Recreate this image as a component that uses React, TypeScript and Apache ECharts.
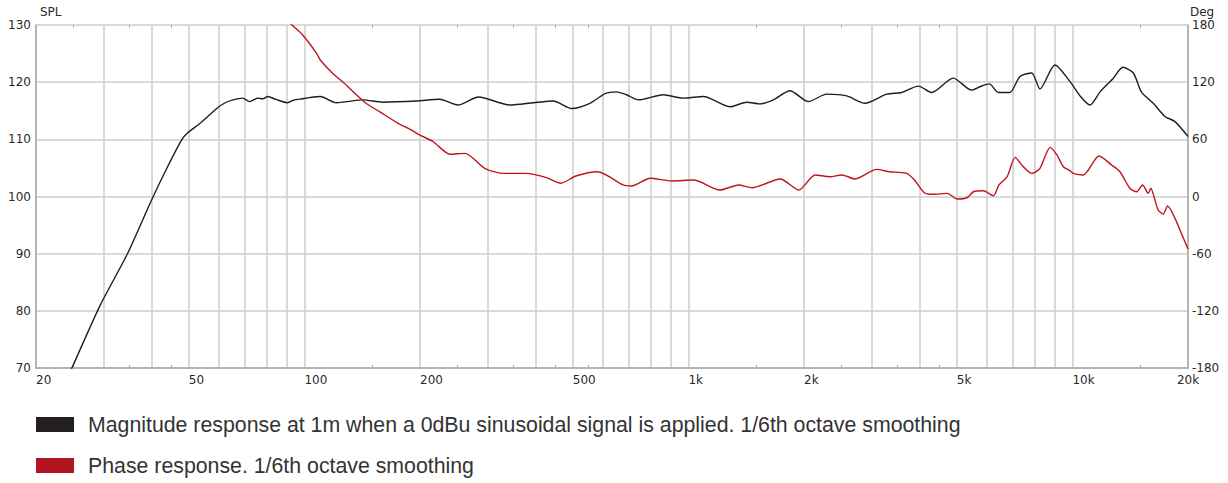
import React, { useEffect, useRef } from "react";
import * as echarts from "echarts";

// Magnitude response (Hz, dB SPL)
const magFreq = [
  24, 24.8, 29.4, 34.5, 40.0, 43.8, 47.9, 49.6, 53.5, 59.1, 62.2, 65.2, 69.0, 72.0, 75.7, 78, 80.3, 84.2, 90.3, 94,
  99, 103, 110, 121, 142, 160, 196, 225, 251, 284, 343, 395, 445, 497, 554, 607, 650, 690, 741, 860, 970, 1094,
  1284, 1419, 1536, 1663, 1839, 2052, 2292, 2584, 2883, 3284, 3594, 3970, 4300, 4895, 5467, 5742, 6079, 6413,
  6873, 7302, 7831, 8232, 9007, 9857, 10500, 11110, 11800, 12780, 13530, 14410, 15150, 16240, 17420, 18500, 20000,
];
const magSpl = [
  68, 70, 81.0, 89.8, 99.4, 104.9, 109.9, 111.1, 112.8, 115.4, 116.4, 116.9, 117.2, 116.6, 117.2, 117.1, 117.5,
  117.0, 116.4, 116.9, 117.1, 117.3, 117.5, 116.4, 116.9, 116.5, 116.7, 117.0, 116.0, 117.4, 116.0, 116.4, 116.7,
  115.4, 116.3, 118.0, 118.3, 117.8, 116.9, 117.8, 117.2, 117.5, 115.7, 116.5, 116.2, 116.9, 118.5, 116.6, 117.9,
  117.6, 116.3, 117.9, 118.2, 119.3, 118.2, 120.7, 118.6, 119.2, 119.7, 118.2, 118.2, 121.0, 121.6, 118.8, 123.0,
  120.1, 117.5, 116.0, 118.3, 120.7, 122.6, 121.6, 118.2, 116.3, 114.0, 113.1, 110.5,
];

// Phase response (Hz, degrees)
const phaseFreq = [
  85, 92.8, 99, 107.6, 110, 118.4, 127, 144.7, 157, 175.4, 188, 200, 216.6, 239.5, 261.8, 294.8, 328.6, 377.5,
  425, 465.5, 509, 580, 676, 711, 795, 906, 1032, 1209, 1350, 1464, 1735, 1939, 2138, 2338, 2508, 2718, 3090,
  3342, 3689, 3878, 4116, 4325, 4724, 5012, 5316, 5525, 5865, 6228, 6435, 6760, 7096, 7420, 7831, 8232, 8753,
  9113, 9474, 9857, 10050, 10680, 11000, 11730, 12650, 13300, 14120, 14700, 15230, 15760, 15990, 16720, 17240,
  17700, 18500, 19060, 20000,
];
const phaseDeg = [
  195, 180, 169.5, 150.3, 143.3, 129.3, 118.8, 97.8, 89.0, 76.8, 70.8, 64.5, 57.5, 44.3, 45.3, 29.6, 24.3, 24.3,
  20.1, 13.9, 21.5, 26.0, 12.1, 11.0, 19.1, 16.3, 17.3, 6.8, 12.1, 9.2, 18.4, 6.8, 22.6, 20.8, 22.6, 18.4, 28.5,
  26.0, 24.5, 17.3, 4.0, 2.3, 3.3, -2.6, -1.3, 5.0, 6.1, 0.8, 12.1, 20.8, 41.1, 32.0, 24.3, 29.6, 51.6, 43.6,
  31.3, 27.1, 24.3, 22.6, 27.8, 42.5, 33.1, 26.0, 8.6, 5.0, 12.1, 3.3, 8.6, -14.2, -18.4, -10.0, -22.9, -35.2,
  -55,
];

const xLabelFreqs = [20, 50, 100, 200, 500, 1000, 2000, 5000, 10000, 20000];
const gridFreqs = [
  20, 30, 40, 50, 60, 70, 80, 90, 100, 200, 300, 400, 500, 600, 700, 800, 900, 1000, 2000, 3000, 4000, 5000, 6000,
  7000, 8000, 9000, 10000, 20000,
];
const minorTickFreqs = [25, 35, 45, 150, 250, 350, 450, 550, 1500, 2500, 3500, 4500, 15000];

const seriesNames = [
  "Magnitude response at 1m when a 0dBu sinusoidal signal is applied. 1/6th octave smoothing",
  "Phase response. 1/6th octave smoothing",
];
const splName = "SPL";
const degName = "Deg";

const lg = (f: number) => Math.log10(f);

export default function App() {
  const ref = useRef<HTMLDivElement>(null);
  useEffect(() => {
    if (!ref.current) return;
    const chart = echarts.init(ref.current, undefined, { renderer: "svg" });
    const xmin = lg(20);
    const xmax = lg(20000);
    const labelColor = "#2a2a2a";
    const axisLineColor = "#a8a8a8";
    const gridColor = "#cdcdcd";
    const fmt = (v: number) => {
      const f = Math.round(Math.pow(10, v));
      return f >= 1000 ? f / 1000 + "k" : String(f);
    };
    chart.setOption({
      animation: false,
      textStyle: { fontFamily: "DejaVu Sans" },
      grid: { left: 36, right: 40, top: 25, bottom: 115, containLabel: false },
      legend: {
        orient: "vertical",
        left: 36,
        top: 414,
        padding: 0,
        itemWidth: 38,
        itemHeight: 15,
        itemGap: 20,
        icon: "rect",
        selectedMode: false,
        textStyle: {
          fontFamily: "Liberation Sans",
          fontSize: 21.3,
          color: "#333",
          padding: [0, 0, 0, 9],
        },
        data: [
          { name: seriesNames[0], itemStyle: { color: "#231f20" } },
          { name: seriesNames[1], itemStyle: { color: "#b2151f" } },
        ],
      },
      xAxis: [
        {
          type: "value",
          min: xmin,
          max: xmax,
          position: "bottom",
          axisLine: { show: true, onZero: false, lineStyle: { color: axisLineColor, width: 1.5 } },
          axisTick: { show: false, customValues: gridFreqs.map(lg) },
          splitLine: { show: true, lineStyle: { color: gridColor, width: 1.5 } },
          axisLabel: {
            customValues: xLabelFreqs.map(lg),
            formatter: fmt,
            color: labelColor,
            fontSize: 12,
            margin: 6,
            align: "left",
            alignMinLabel: "left",
            alignMaxLabel: "center",
          },
        },
        {
          type: "value",
          min: xmin,
          max: xmax,
          position: "top",
          axisLine: { show: false, onZero: false },
          axisTick: {
            show: true,
            inside: true,
            length: 3,
            customValues: minorTickFreqs.map(lg),
            lineStyle: { color: axisLineColor },
          },
          splitLine: { show: false },
          axisLabel: { show: false },
        },
        {
          type: "value",
          min: xmin,
          max: xmax,
          position: "bottom",
          offset: 0,
          axisLine: { show: false, onZero: false },
          axisTick: {
            show: true,
            inside: true,
            length: 3,
            customValues: minorTickFreqs.map(lg),
            lineStyle: { color: axisLineColor },
          },
          splitLine: { show: false },
          axisLabel: { show: false },
        },
      ],
      yAxis: [
        {
          type: "value",
          min: 70,
          max: 130,
          interval: 10,
          position: "left",
          name: splName,
          nameLocation: "end",
          nameGap: 7,
          nameTextStyle: { color: labelColor, fontSize: 12, align: "left", padding: [0, 0, 0, 4] },
          axisLine: { show: true, onZero: false, lineStyle: { color: axisLineColor, width: 1.5 } },
          axisTick: { show: false },
          splitLine: { show: true, lineStyle: { color: gridColor, width: 1.5 } },
          axisLabel: { color: labelColor, fontSize: 12, margin: 5 },
        },
        {
          type: "value",
          min: -180,
          max: 180,
          interval: 60,
          position: "right",
          name: degName,
          nameLocation: "end",
          nameGap: 7,
          nameTextStyle: { color: labelColor, fontSize: 12, align: "left", padding: [0, 0, 0, 2] },
          axisLine: { show: true, onZero: false, lineStyle: { color: axisLineColor, width: 1.5 } },
          axisTick: { show: false },
          splitLine: { show: false },
          axisLabel: { color: labelColor, fontSize: 12, margin: 4 },
        },
      ],
      series: [
        {
          name: seriesNames[0],
          type: "line",
          xAxisIndex: 0,
          yAxisIndex: 0,
          symbol: "none",
          showSymbol: false,
          clip: true,
          smooth: 0.25,
          color: "#231f20",
          itemStyle: { color: "#231f20" },
          lineStyle: { color: "#1e1e1e", width: 1.4 },
          data: magFreq.map((f, i) => [lg(f), magSpl[i]]),
        },
        {
          name: seriesNames[1],
          type: "line",
          xAxisIndex: 0,
          yAxisIndex: 1,
          symbol: "none",
          showSymbol: false,
          clip: true,
          smooth: 0.25,
          color: "#b2151f",
          itemStyle: { color: "#b2151f" },
          lineStyle: { color: "#c0141c", width: 1.4 },
          data: phaseFreq.map((f, i) => [lg(f), phaseDeg[i]]),
        },
      ],
    });
    return () => chart.dispose();
  }, []);
  return (
    <div
      ref={ref}
      style={{ position: "fixed", left: 0, top: 0, width: 1228, height: 483, background: "#fff" }}
    />
  );
}
